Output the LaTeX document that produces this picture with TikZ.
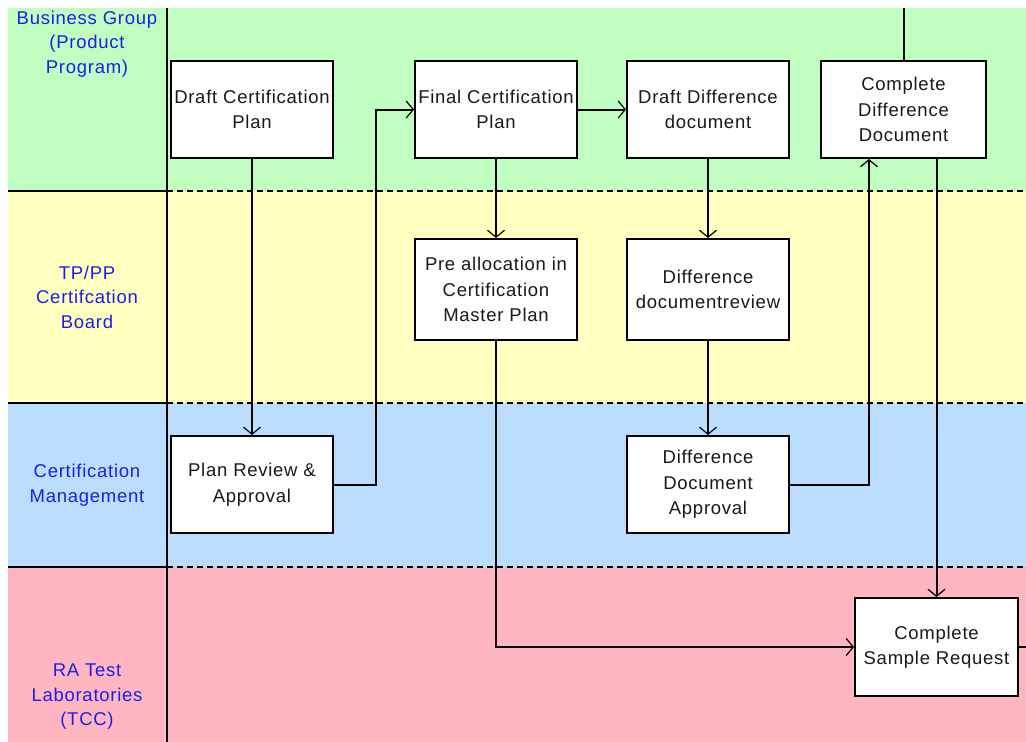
\documentclass[tikz,border=0pt]{standalone}
\usepackage{fontspec}
\setmainfont{Liberation Sans}
\newfontfamily\spacedfont[LetterSpace=4]{Liberation Sans}
\usetikzlibrary{arrows.meta}
\definecolor{lanegreen}{RGB}{192,255,192}
\definecolor{laneyellow}{RGB}{255,255,192}
\definecolor{laneblue}{RGB}{187,222,255}
\definecolor{lanepink}{RGB}{255,182,193}
\definecolor{lanetext}{RGB}{30,30,235}
\tikzset{
  stepbox/.style={draw=black, fill=white, line width=2pt, minimum width=162pt,
    minimum height=97pt, align=center, inner sep=2pt,
    font=\spacedfont\fontsize{18.5}{25.5}\selectfont, text=black!90},
  lanelabel/.style={align=center, text=lanetext, font=\spacedfont\fontsize{18.5}{24.5}\selectfont},
  flow/.style={line width=2pt, -{Straight Barb[length=7pt,width=17pt,line width=1.2pt]}},
  plain/.style={line width=2pt},
  divider/.style={line width=2pt},
  dashdivider/.style={line width=2pt, dash pattern=on 6pt off 4pt},
}
\begin{document}
\begin{tikzpicture}[x=1pt, y=-1pt]
  \useasboundingbox (0,0) rectangle (1026,742);
  % swim lanes
  \fill[lanegreen]  (8,8)   rectangle (1026,191);
  \fill[laneyellow] (8,191) rectangle (1026,403);
  \fill[laneblue]   (8,403) rectangle (1026,567);
  \fill[lanepink]   (8,567) rectangle (1026,742);
  % lane separators: solid in the title column, dashed across the flow area
  \foreach \yy in {191,403,567} {
    \draw[divider] (8,\yy) -- (167,\yy);
    \draw[dashdivider] (167,\yy) -- (1026,\yy);
  }
  \draw[divider] (167,8) -- (167,742);
  % lane titles
  \node[lanelabel] (lgroup) at (87,44) {Business Group\\(Product\\Program)};
  \node[lanelabel] (lboard) at (87,297) {TP/PP\\Certifcation\\Board};
  \node[lanelabel] (lmgmt)  at (87,485) {Certification\\Management};
  \node[lanelabel] (llab)   at (87,697) {RA Test\\Laboratories\\(TCC)};
  % process steps
  \node[stepbox] (dcp) at (252,109.5) {Draft Certification\\Plan};
  \node[stepbox] (fcp) at (496,109.5) {Final Certification\\Plan};
  \node[stepbox] (ddd) at (708,109.5) {Draft Difference\\document};
  \node[stepbox, minimum width=165pt] (cdd) at (903.5,109.5) {Complete\\Difference\\Document};
  \node[stepbox, minimum height=101pt] (pre) at (496,289.5) {Pre allocation in\\Certification\\Master Plan};
  \node[stepbox, minimum height=101pt] (ddr) at (708,289.5) {Difference\\documentreview};
  \node[stepbox] (pra) at (252,484.5) {Plan Review \&\\Approval};
  \node[stepbox] (dda) at (708,484.5) {Difference\\Document\\Approval};
  \node[stepbox, minimum width=163pt, minimum height=98pt] (csr) at (936.5,647) {Complete\\Sample Request};
  % free ends running off the page
  \coordinate (topexit) at (903.5,8);
  \coordinate (rightexit) at (1026,647);
  % connectors
  \draw[flow] (dcp) -- (pra);
  \draw[flow] (pra.east) -- ++(42,0) |- (fcp.west);
  \draw[flow] (fcp) -- (ddd);
  \draw[flow] (fcp) -- (pre);
  \draw[flow] (ddd) -- (ddr);
  \draw[flow] (ddr) -- (dda);
  \draw[flow] (dda.east) -| ([xshift=49pt]cdd.south west);
  \draw[plain] (cdd.north) -- (topexit);
  \draw[flow] (csr.north |- cdd.south) -- (csr.north);
  \draw[flow] (pre.south) |- (csr.west);
  \draw[plain] (csr.east) -- (rightexit);
\end{tikzpicture}
\end{document}
